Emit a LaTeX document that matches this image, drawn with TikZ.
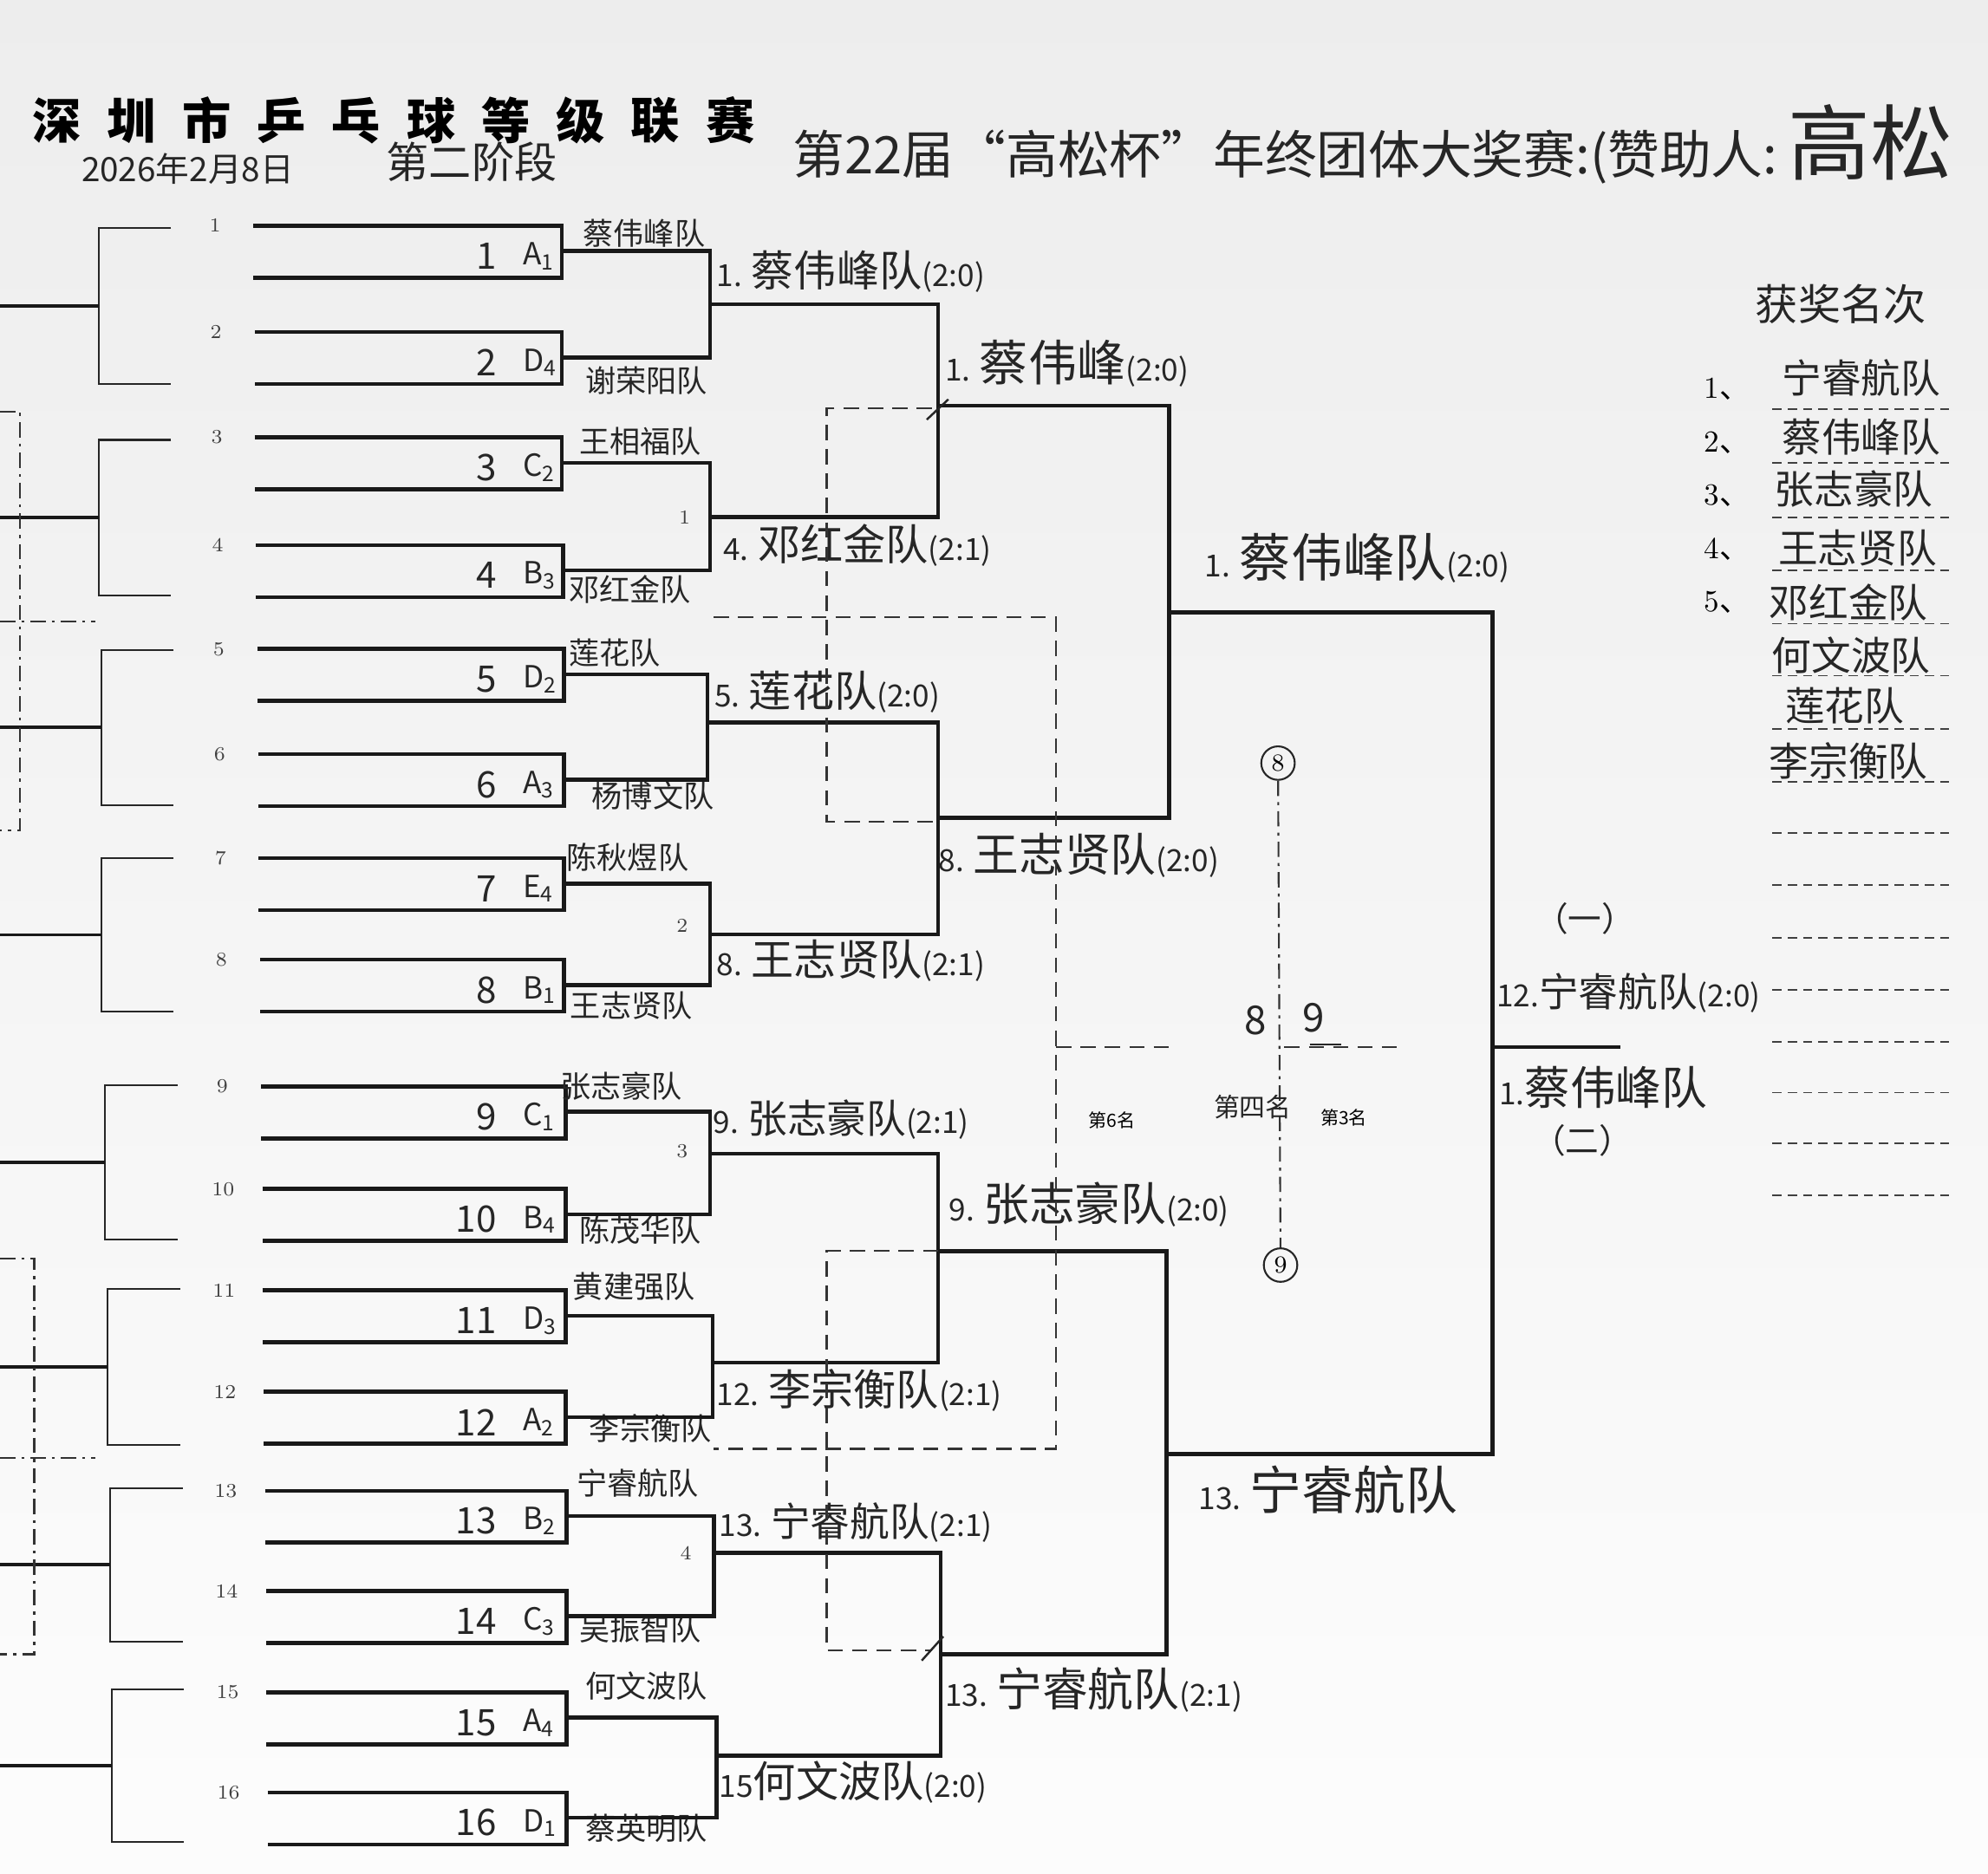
\documentclass[tikz,border=0pt]{standalone}
\usepackage{fontspec}
\newfontfamily\cjk{Noto Sans CJK SC}
\definecolor{ink}{HTML}{262626}
\newcommand\hwf[1]{\cjk\fontsize{#1}{#1}\selectfont}
\newcommand\wlab[4]{{\fontsize{10}{10}\selectfont #1}{\fontsize{#4}{#4}\selectfont #2}{\fontsize{10}{10}\selectfont #3}}
\tikzset{
  thk/.style={line width=1.3pt,line join=miter,draw=black!90},
  thn/.style={line width=0.6pt,draw=black!85},
  stub/.style={line width=1.1pt,draw=black!90},
  dsh/.style={line width=0.6pt,draw=black!80,dash pattern=on 5pt off 3pt},
  ddot/.style={line width=0.6pt,draw=black!80,dash pattern=on 5pt off 2pt on 1pt off 2pt},
  hw/.style={font=\hwf{#1},text=ink,inner sep=0pt},
  prn/.style={font=\fontsize{6.5}{6.5}\selectfont,text=black!75,inner sep=0pt},
  win/.style={font=\cjk,text=ink,inner sep=0pt,anchor=west},
}
\begin{document}
\begin{tikzpicture}[x=0.14624mm,y=-0.14624mm]
\useasboundingbox (0,0) rectangle (1568,1478);
\shade[top color=gray!14,bottom color=gray!2] (0,0) rectangle (1568,1478);

% ---------- headings
\foreach \c [count=\n from 0] in {深,圳,市,乒,乓,球,等,级,联,赛}
  \node[font=\cjk\bfseries\fontsize{16}{16}\selectfont,inner sep=0pt] (tt\n) at (45+59*\n,95) {\c};
\node[hw=11] (date) at (148,133) {2026年2月8日};
\node[hw=14] (stage) at (372,128) {第二阶段};
\node[hw=17,anchor=west] (title) at (625,124) {第22届“高松杯”年终团体大奖赛:(赞助人:};
\node[hw=27,anchor=west] (sponsor) at (1410,112) {高松};

% ---------- left outer brackets
\foreach \k/\L/\ta/\tb in {1/78/180/303,2/78/347/470,3/80/513/635,4/80/677/798,5/83/856/978,6/85/1017/1140,7/87/1174/1295,8/88/1333/1453}{
  \draw[thn] (\L+57,\ta) -- (\L,\ta) -- (\L,\tb) -- (\L+57,\tb);
  \coordinate (lb\k) at (\L,{(\ta+\tb)/2});
  \coordinate (le\k) at (0,{(\ta+\tb)/2});
  \draw[stub] (le\k) -- (lb\k);
}
\draw[ddot] (0,325) -- (16,325) -- (16,655) -- (0,655);
\draw[ddot] (0,490) -- (75,490);
\draw[ddot] (0,993) -- (27,993) -- (27,1305) -- (0,1305);
\draw[ddot] (0,1150) -- (75,1150);

% ---------- seed boxes
\foreach \i/\t/\l/\r/\g/\s in {1/178/200/443/A/1,2/262/201/443/D/4,3/345/201/443/C/2,4/430/202/444/B/3,
  5/512/203/445/D/2,6/595/204/445/A/3,7/677/204/445/E/4,8/757/205/445/B/1,
  9/857/206/446/C/1,10/938/207/446/B/4,11/1018/207/446/D/3,12/1098/208/446/A/2,
  13/1176/209/447/B/2,14/1255/210/447/C/3,15/1335/210/447/A/4,16/1414/211/447/D/1}{
  \draw[thk] (\l,\t) -- (\r,\t) -- (\r,\t+41) -- (\l,\t+41);
  \coordinate (s\i) at (\r,\t+20);
  \node[prn] (n\i) at (169+0.7*\i,\t) {\i};
  \node[hw=12,anchor=east] (sn\i) at (392,\t+24) {\i};
  \node[hw=10,anchor=west] (sg\i) at (412,\t+24) {\g\textsubscript{\s}};
}

% team names
\foreach \i/\nm/\x/\y in {1/蔡伟峰队/508/184,2/谢荣阳队/510/300,3/王相福队/505/348,4/邓红金队/497/465,
  5/莲花队/485/515,6/杨博文队/515/628,7/陈秋煜队/495/676,8/王志贤队/498/793,
  9/张志豪队/490/857,10/陈茂华队/505/970,11/黄建强队/500/1015,12/李宗衡队/513/1127,
  13/宁睿航队/503/1170,14/吴振智队/505/1285,15/何文波队/510/1330,16/蔡英明队/510/1442}
  \node[hw=10] (tn\i) at (\x,\y) {\nm};

% ---------- round 1
\coordinate (m1) at (560,240);  \coordinate (m2) at (560,408);
\coordinate (m3) at (558,570);  \coordinate (m4) at (560,737);
\coordinate (m5) at (560,910);  \coordinate (m6) at (562,1075);
\coordinate (m7) at (563,1225); \coordinate (m8) at (565,1385);
\draw[thk] (s1) -| (m1) |- (s2);
\draw[thk] (s3) -| (m2) |- (s4);
\draw[thk] (s5) -| (m3) |- (s6);
\draw[thk] (s7) -| (m4) |- (s8);
\draw[thk] (s9) -| (m5) |- (s10);
\draw[thk] (s11) -| (m6) |- (s12);
\draw[thk] (s13) -| (m7) |- (s14);
\draw[thk] (s15) -| (m8) |- (s16);
\node[prn] (b1) at (540,408) {1};
\node[prn] (b2) at (538,730) {2};
\node[prn] (b3) at (538,908) {3};
\node[prn] (b4) at (541,1225) {4};

% ---------- round 2
\coordinate (q1) at (740,320);  \coordinate (q2) at (740,645);
\coordinate (q3) at (740,987);  \coordinate (q4) at (742,1305);
\draw[thk] (m1) -| (q1) |- (m2);
\draw[thk] (m3) -| (q2) |- (m4);
\draw[thk] (m5) -| (q3) |- (m6);
\draw[thk] (m7) -| (q4) |- (m8);

% ---------- round 3
\coordinate (r1) at (922,483); \coordinate (r2) at (920,1147);
\draw[thk] (q1) -| (r1) |- (q2);
\draw[thk] (q3) -| (r2) |- (q4);

% ---------- final
\coordinate (f) at (1177,826); \coordinate (fe) at (1278,826);
\draw[thk] (r1) -| (f) |- (r2);
\draw[thk] (f) -- (fe);

% ---------- winner labels
\node[win] (w1) at (565,214) {\wlab{1. }{蔡伟峰队}{(2:0)}{14}};
\node[win] (w2) at (570,430) {\wlab{4. }{邓红金队}{(2:1)}{14}};
\node[win] (w3) at (563,546) {\wlab{5. }{莲花队}{(2:0)}{14}};
\node[win] (w4) at (565,758) {\wlab{8. }{王志贤队}{(2:1)}{14}};
\node[win] (w5) at (562,883) {\wlab{9. }{张志豪队}{(2:1)}{13}};
\node[win] (w6) at (565,1097) {\wlab{12. }{李宗衡队}{(2:1)}{14}};
\node[win] (w7) at (567,1201) {\wlab{13. }{宁睿航队}{(2:1)}{13}};
\node[win] (w8) at (567,1406) {\wlab{15}{何文波队}{(2:0)}{14}};
\node[win] (v1) at (745,287) {\wlab{1. }{蔡伟峰}{(2:0)}{16}};
\node[win] (v2) at (740,675) {\wlab{8. }{王志贤队}{(2:0)}{15}};
\node[win] (v3) at (748,950) {\wlab{9. }{张志豪队}{(2:0)}{15}};
\node[win] (v4) at (745,1333) {\wlab{13. }{宁睿航队}{(2:1)}{15}};
\node[win] (u1) at (950,440) {\wlab{1. }{蔡伟峰队}{(2:0)}{17}};
\node[win] (u2) at (945,1175) {\wlab{13. }{宁睿航队}{}{17}};
\node[hw=11] (yi) at (1250,725) {（一）};
\node[win] (fa) at (1180,783) {\wlab{12.}{宁睿航队}{(2:0)}{13}};
\node[win] (fb) at (1182,858) {\wlab{1.}{蔡伟峰队}{}{15}};
\node[hw=11] (er) at (1248,900) {（二）};

% ---------- dashed boxes in the middle
\draw[dsh] (735,322) -- (652,322) -- (652,648) -- (740,648);
\draw[dsh] (563,487) -- (833,487) -- (833,1143) -- (563,1143);
\draw[dsh] (833,826) -- (925,826);
\draw[dsh] (740,987) -- (652,987) -- (652,1302) -- (735,1302);
\draw[line width=0.7pt,ink] (731,331) -- (748,315);
\draw[line width=0.7pt,ink] (727,1310) -- (744,1291);

% ---------- centre: 3rd/4th place
\node[circle,draw=ink,line width=0.6pt,inner sep=0pt,minimum size=11pt,font=\fontsize{8}{8}\selectfont] (c8) at (1008,602) {8};
\node[circle,draw=ink,line width=0.6pt,inner sep=0pt,minimum size=11pt,font=\fontsize{8}{8}\selectfont] (c9) at (1010,998) {9};
\draw[ddot] (c8) -- (c9);
\draw[dsh] (1013,826) -- (1108,826);
\draw[line width=0.8pt,ink] (1033,824) -- (1058,824);
\node[hw=13] (e8) at (990,805) {8};
\node[hw=13] (e9) at (1036,803) {9};
\node[hw=8.5] (p4) at (988,873) {第四名};
\node[font=\cjk\fontsize{6}{6}\selectfont,inner sep=0pt] (p3) at (1060,882) {第3名};
\node[font=\cjk\fontsize{6}{6}\selectfont,inner sep=0pt] (p6) at (877,884) {第6名};

% ---------- ranking list
\node[hw=14] (rk) at (1452,240) {获奖名次};
\foreach \k/\y in {1/307,2/349,3/391,4/433,5/475}
  \node[font=\fontsize{10}{10}\selectfont,inner sep=0pt] (rn\k) at (1362,\y) {\k\cjk、};
\foreach \y in {323,365,408,450,492,533,575,617,657,698,740,781,822,862,902,943}
  \draw[line width=0.5pt,draw=black!75,dash pattern=on 3pt off 2pt] (1398,\y) -- (1540,\y);
\foreach \k/\nm/\x/\y in {1/宁睿航队/1468/298,2/蔡伟峰队/1468/345,3/张志豪队/1462/386,4/王志贤队/1465/432,
  5/邓红金队/1458/475,6/何文波队/1460/517,7/莲花队/1455/557,8/李宗衡队/1458/600}
  \node[hw=13] (rl\k) at (\x,\y) {\nm};
\end{tikzpicture}
\end{document}
